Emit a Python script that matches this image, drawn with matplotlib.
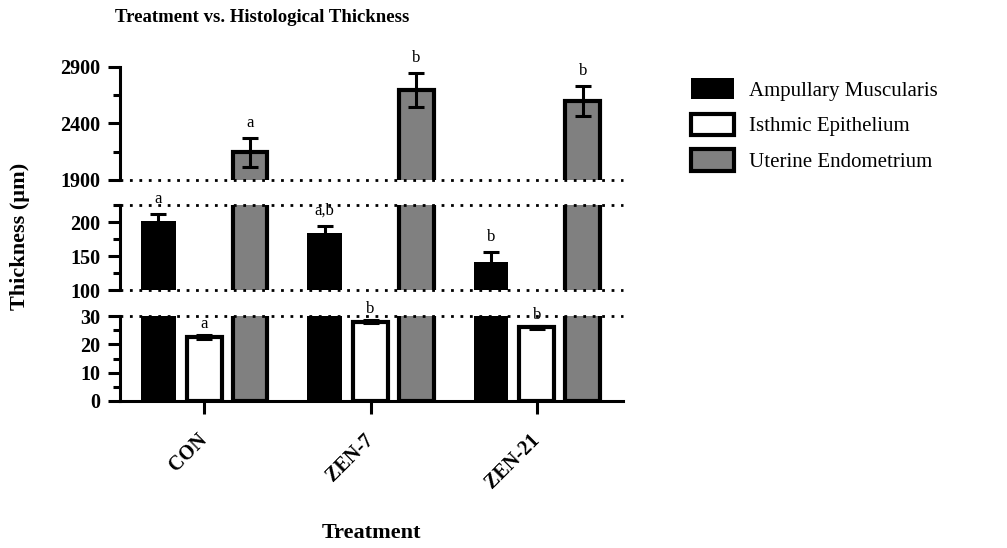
import numpy as np
import matplotlib
matplotlib.use('Agg')
import matplotlib.pyplot as plt
from matplotlib.patches import Patch

plt.rcParams['font.family'] = ['Liberation Serif', 'DejaVu Serif']

# data
groups = ['CON', 'ZEN-7', 'ZEN-21']
series = ['Ampullary Muscularis', 'Isthmic Epithelium', 'Uterine Endometrium']
ampullary = [201, 184, 141]
ampullary_err = [11, 10, 15]
isthmic = [22.7, 28.0, 26.0]
isthmic_err = [0.7, 0.6, 0.6]
uterine = [2145, 2700, 2600]
uterine_err = [130, 150, 135]
ampullary_sig = ['a', 'a,b', 'b']
isthmic_sig = ['a', 'b', 'b']
uterine_sig = ['a', 'b', 'b']

# broken y axis segments: (low, high, major ticks, minor ticks)
segments = [
    (0, 30, [0, 10, 20, 30], [5, 15, 25]),
    (100, 225, [100, 150, 200], [125, 175, 225]),
    (1900, 2900, [1900, 2400, 2900], [2150, 2650]),
]

W, H = 1007, 548
fig = plt.figure(figsize=(W / 100, H / 100), dpi=100)

def px_axes(x0, y0, x1, y1):
    return fig.add_axes([x0 / W, 1 - y1 / H, (x1 - x0) / W, (y1 - y0) / H])

axs = [px_axes(120, 316, 623, 401),
       px_axes(120, 205, 623, 290),
       px_axes(120, 67, 623, 180)]

values = [ampullary, isthmic, uterine]
errors = [ampullary_err, isthmic_err, uterine_err]
sigs = [ampullary_sig, isthmic_sig, uterine_sig]
faces = ['black', 'white', '#808080']
offsets = [-0.276, 0.0, 0.276]
label_ax = [1, 0, 2]      # segment in which each series' bar tops appear
label_pad = [5, 2, 5]
x = np.arange(len(groups))
width = 0.21

tick_font = dict(fontsize=14.5, fontweight='bold')

for k, (ax, (lo, hi, major, minor)) in enumerate(zip(axs, segments)):
    for s in range(3):
        ax.bar(x + offsets[s], values[s], width, color=faces[s],
               edgecolor='black', linewidth=0 if s == 0 else 3, zorder=2)
        ax.errorbar(x + offsets[s], values[s], yerr=errors[s], fmt='none',
                    ecolor='black', elinewidth=2.2, capsize=5.5, capthick=2.2, zorder=3)
    ax.set_xlim(-0.505, 2.517)
    ax.set_ylim(lo, hi)
    ax.set_yticks(major)
    ax.set_yticks(minor, minor=True)
    ax.set_yticklabels([str(v) for v in major], **tick_font)
    ax.tick_params(axis='y', which='major', length=9, width=2.2, pad=5)
    ax.tick_params(axis='y', which='minor', length=5, width=2.2)
    for side in ['top', 'right']:
        ax.spines[side].set_visible(False)
    ax.spines['left'].set_linewidth(2.2)
    ax.patch.set_alpha(0)
    if k == 0:
        ax.spines['bottom'].set_linewidth(2.2)
        ax.set_xticks(x)
        ax.set_xticklabels(groups, rotation=45, ha='right', va='center',
                           rotation_mode='anchor', **tick_font)
        ax.tick_params(axis='x', length=9, width=2.2, pad=17)
    else:
        ax.spines['bottom'].set_visible(False)
        ax.set_xticks([])
    # dotted break lines
    edges = [hi] if k == 0 else ([lo, hi] if k == 1 else [lo])
    for yv in edges:
        ax.axhline(yv, color='black', linestyle=(0, (1, 2.4)), linewidth=2,
                   zorder=5, clip_on=False)

for s in range(3):
    ax = axs[label_ax[s]]
    for i in range(len(groups)):
        ax.annotate(sigs[s][i], (x[i] + offsets[s], values[s][i] + errors[s][i]),
                    xytext=(0, label_pad[s]), textcoords='offset points',
                    ha='center', va='bottom', fontsize=12, annotation_clip=False)

handles = [Patch(facecolor=faces[s], edgecolor='black', linewidth=0 if s == 0 else 3)
           for s in range(3)]
fig.legend(handles, series, loc='upper left', bbox_to_anchor=(691 / W, 1 - 78 / H),
           frameon=False, fontsize=15, handlelength=2.05, handleheight=1.2,
           labelspacing=0.62, handletextpad=0.75, borderpad=0, borderaxespad=0)

fig.text(262 / W, 1 - 18 / H, 'Treatment vs. Histological Thickness',
         ha='center', va='center', fontsize=13.5, fontweight='bold')
fig.text(371 / W, 1 - 533 / H, 'Treatment', ha='center', va='center',
         fontsize=16, fontweight='bold')
fig.text(20 / W, 1 - 236 / H, 'Thickness (µm)', ha='center', va='center',
         rotation=90, fontsize=16, fontweight='bold')

fig.savefig('out.png', dpi=100)
